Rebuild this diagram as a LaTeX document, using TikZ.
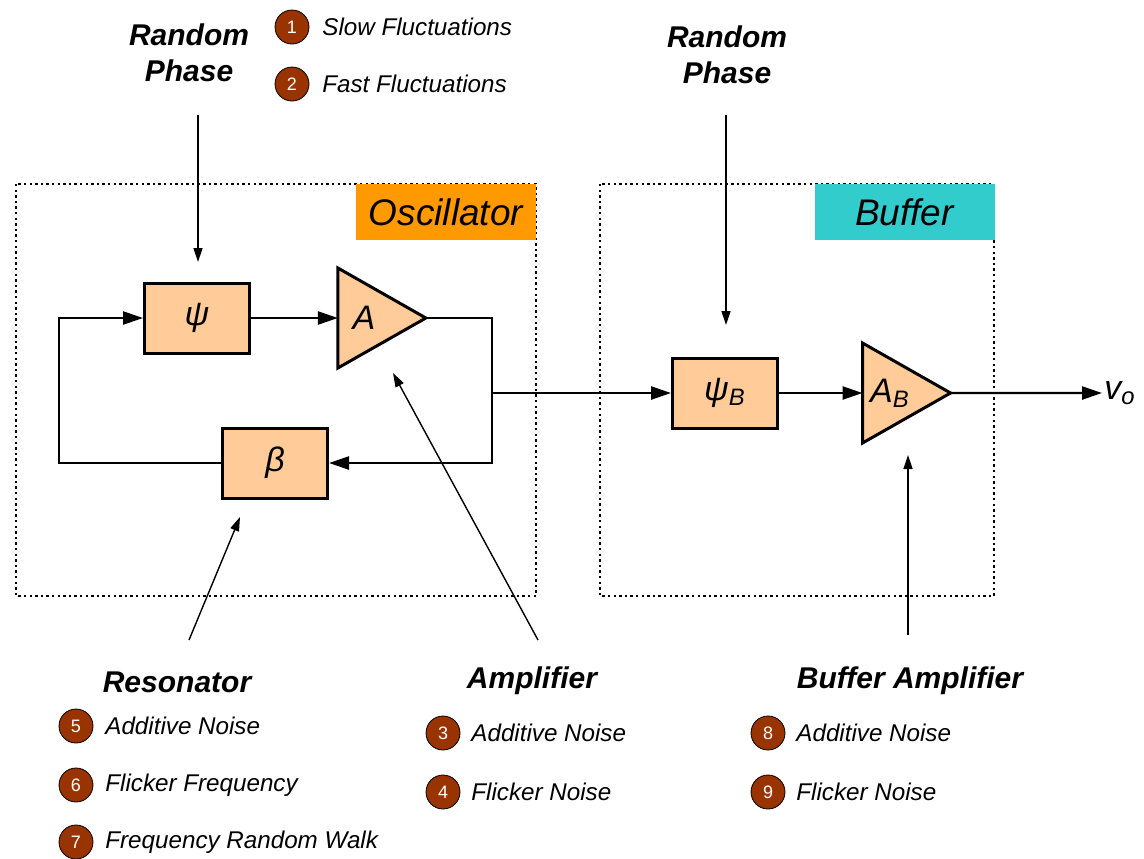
\documentclass[tikz,border=0pt]{standalone}
\usepackage{fontspec}
\setmainfont{Liberation Sans}
\usepackage[HTML]{xcolor}
\usepackage{tikz}
\usetikzlibrary{positioning, arrows.meta, shapes.geometric}

\definecolor{blockfill}{HTML}{FFCC99}
\definecolor{oscorange}{HTML}{FF9900}
\definecolor{bufteal}{HTML}{33CCCC}
\definecolor{badgebrown}{HTML}{993300}

\begin{document}
\begin{tikzpicture}[x=0.5pt, y=-0.5pt,
  every node/.style={font=\itshape},
  block/.style={draw, line width=1.5pt, fill=blockfill, minimum width=52.5pt, minimum height=35pt, font=\fontsize{17}{20}\selectfont\itshape},
  amp/.style={draw, line width=1.5pt, fill=blockfill, isosceles triangle, isosceles triangle stretches, shape border rotate=0, minimum width=50pt, minimum height=44pt, inner sep=0pt, outer sep=0pt, font=\fontsize{17}{20}\selectfont\itshape},
  frame/.style={line width=0.8pt, dash pattern=on 1.2pt off 1.6pt},
  tag/.style={minimum width=90pt, minimum height=28pt, inner sep=0pt, font=\fontsize{18.5}{22}\selectfont\itshape},
  heading/.style={align=center, font=\fontsize{15}{18}\selectfont\bfseries\itshape},
  badge/.style={circle, draw=black, line width=0.4pt, fill=badgebrown, text=white, minimum size=17pt, inner sep=0pt, font=\fontsize{9}{9}\selectfont\upshape},
  item/.style={anchor=west, inner sep=0pt, font=\fontsize{12.1}{14}\selectfont\itshape},
  wire/.style={line width=1.2pt},
  flow/.style={line width=1.2pt, -{Triangle[length=10pt, width=6.5pt]}},
  noise/.style={line width=0.7pt, -{Triangle[length=7pt, width=4.5pt]}}]
\useasboundingbox (0,0) rectangle (1144,858);

% Frames and their tags
\draw[frame] (16,184) rectangle (536,596);
\draw[frame] (600,184) rectangle (994,596);
\node[tag, fill=oscorange] (osctag) at (446,212) {Oscillator};
\node[tag, fill=bufteal] (buftag) at (904.5,212) {Buffer};

% Define the nodes
\node[block] (psi) at (197,318) {ψ};
\node[amp] (amp) at (364,318) {A};
\node[block] (beta) at (275,463) {β};
\node[block] (psib) at (725,393) {ψ\textsubscript{B}};
\node[amp] (ampb) at (890,393) {A\textsubscript{B}};
\node[font=\fontsize{17}{20}\selectfont\itshape, inner sep=1pt] (vo) at (1120,393) {v\textsubscript{o}};

\coordinate (rt) at (492,463);
\coordinate (lt) at (59,318);
\coordinate (tap) at (492,393);

% Draw the loop and the output path
\draw[wire] (amp.east) -| (tap);
\draw[flow] (tap) |- (beta.east);
\draw[flow] (beta.west) -| (lt) -- (psi.west);
\draw[flow] (psi.east) -- (amp.west);
\draw[flow] (tap) -- (psib.west);
\draw[flow] (psib.east) -- (ampb.west);
\draw[flow] (ampb.east) -- (vo.west);

% Random phase inputs
\node[heading] (rp) at (189,53) {Random\\Phase};
\node[heading] (rpb) at (727,55) {Random\\Phase};
\coordinate (rpin) at (198,115);
\coordinate (rpout) at (198,262);
\coordinate (rpbin) at (726,115);
\coordinate (rpbout) at (726,325);
\draw[noise] (rpin) -- (rpout);
\draw[noise] (rpbin) -- (rpbout);

\node[badge] (b1) at (292,27) {1};
\node[item] (t1) at (322,27) {Slow Fluctuations};
\node[badge] (b2) at (292,84) {2};
\node[item] (t2) at (322,84) {Fast Fluctuations};

% Noise sources
\node[heading] (res) at (177,682) {Resonator};
\node[heading] (ampn) at (532,681) {Amplifier};
\node[heading] (bufn) at (910,681) {Buffer Amplifier};
\coordinate (resin) at (189,640);
\coordinate (resout) at (240,517);
\coordinate (ampin) at (538,640);
\coordinate (ampout) at (393,373);
\coordinate (bufin) at (908,635);
\coordinate (bufout) at (908,455);
\draw[noise] (resin) -- (resout);
\draw[noise] (ampin) -- (ampout);
\draw[noise] (bufin) -- (bufout);

\node[badge] (b5) at (76,726) {5};
\node[item] (t5) at (105,726) {Additive Noise};
\node[badge] (b6) at (76,785) {6};
\node[item] (t6) at (105,785) {Flicker Frequency};
\node[badge] (b7) at (76,842) {7};
\node[item] (t7) at (105,842) {Frequency Random Walk};

\node[badge] (b3) at (443,733) {3};
\node[item] (t3) at (471,733) {Additive Noise};
\node[badge] (b4) at (443,792) {4};
\node[item] (t4) at (471,792) {Flicker Noise};

\node[badge] (b8) at (768,733) {8};
\node[item] (t8) at (796,733) {Additive Noise};
\node[badge] (b9) at (768,792) {9};
\node[item] (t9) at (796,792) {Flicker Noise};
\end{tikzpicture}
\end{document}
